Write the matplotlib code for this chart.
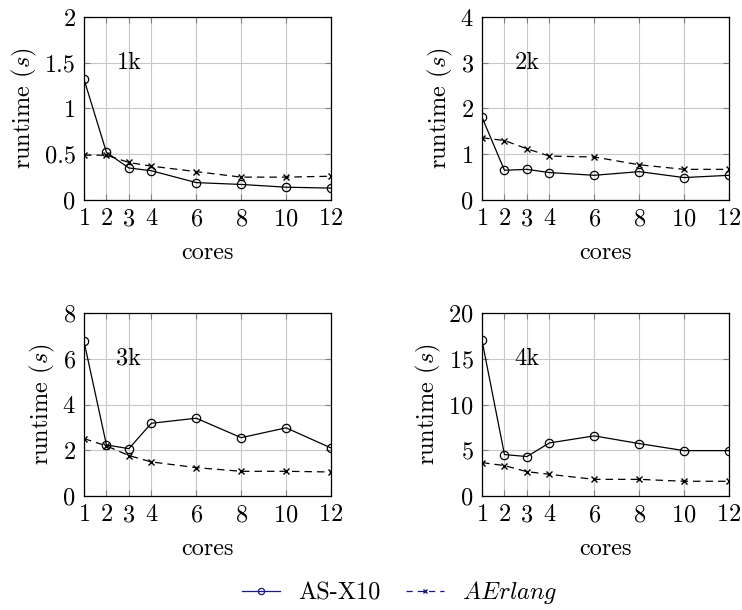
import matplotlib
matplotlib.use('Agg')
import matplotlib.pyplot as plt
from matplotlib.lines import Line2D

plt.rcParams['font.family'] = 'serif'
plt.rcParams['font.serif'] = ['cmr10']
plt.rcParams['mathtext.fontset'] = 'cm'
plt.rcParams['axes.formatter.use_mathtext'] = True
plt.rcParams['font.size'] = 17.5

cores = [1, 2, 3, 4, 6, 8, 10, 12]

asx10_1k = [1.32, 0.52, 0.35, 0.32, 0.19, 0.17, 0.14, 0.13]
aerlang_1k = [0.49, 0.49, 0.41, 0.37, 0.31, 0.25, 0.25, 0.26]

asx10_2k = [1.81, 0.65, 0.67, 0.60, 0.54, 0.62, 0.49, 0.54]
aerlang_2k = [1.36, 1.30, 1.12, 0.96, 0.94, 0.77, 0.67, 0.67]

asx10_3k = [6.76, 2.23, 2.07, 3.18, 3.40, 2.55, 2.98, 2.10]
aerlang_3k = [2.51, 2.19, 1.77, 1.49, 1.24, 1.08, 1.08, 1.05]

asx10_4k = [17.0, 4.53, 4.31, 5.80, 6.57, 5.73, 4.96, 4.96]
aerlang_4k = [3.65, 3.32, 2.66, 2.37, 1.82, 1.82, 1.61, 1.61]

panels = [
    ('1k', asx10_1k, aerlang_1k, 2, [0, 0.5, 1, 1.5, 2], ['0', '0.5', '1', '1.5', '2']),
    ('2k', asx10_2k, aerlang_2k, 4, [0, 1, 2, 3, 4], None),
    ('3k', asx10_3k, aerlang_3k, 8, [0, 2, 4, 6, 8], None),
    ('4k', asx10_4k, aerlang_4k, 20, [0, 5, 10, 15, 20], None),
]

W, H = 742, 610
fig = plt.figure(figsize=(W / 100, H / 100), dpi=100)

# axes boxes in pixels: left, top, right, bottom
boxes = [(84, 17, 331, 200), (482, 17, 729, 200),
         (84, 313, 331, 496), (482, 313, 729, 496)]

for (name, a, b, ymax, yt, ytl), (l, t, r, bt) in zip(panels, boxes):
    ax = fig.add_axes([l / W, 1 - bt / H, (r - l) / W, (bt - t) / H])
    ax.plot(cores, a, color='black', lw=0.9, marker='o', ms=6,
            mfc='none', mec='black', mew=0.9, zorder=3)
    ax.plot(cores, b, color='black', lw=0.9, ls=(0, (6, 4)), marker='x',
            ms=4, mew=1.0, zorder=3)
    ax.set_xlim(1, 12)
    ax.set_ylim(0, ymax)
    ax.set_xticks(cores)
    ax.set_yticks(yt)
    if ytl:
        ax.set_yticklabels(ytl)
    ax.grid(True, color='#c8c8c8', lw=0.8)
    ax.tick_params(direction='in', length=4, color='#808080', top=True,
                   right=True, pad=6)
    for s in ax.spines.values():
        s.set_linewidth(0.9)
    ax.set_xlabel('cores', labelpad=8)
    ax.set_ylabel('runtime ($s$)', labelpad=4)
    ax.text(3, ymax * 0.75, name, ha='center', va='center')

handles = [
    Line2D([], [], color='#1a1a80', lw=0.9, marker='o', ms=4.5, mfc='none',
           mec='#1a1a80', mew=0.9),
    Line2D([], [], color='#1a1a80', lw=0.9, ls=(0, (5, 4)), marker='x',
           ms=3.5, mew=1.0),
]
fig.legend(handles, ['AS-X10', '$AErlang$'], loc='center',
           bbox_to_anchor=(400 / W, 1 - 593 / H), ncol=2, frameon=False,
           handlelength=1.55, columnspacing=1.05, handletextpad=0.75)

fig.savefig('out.png', dpi=100)
